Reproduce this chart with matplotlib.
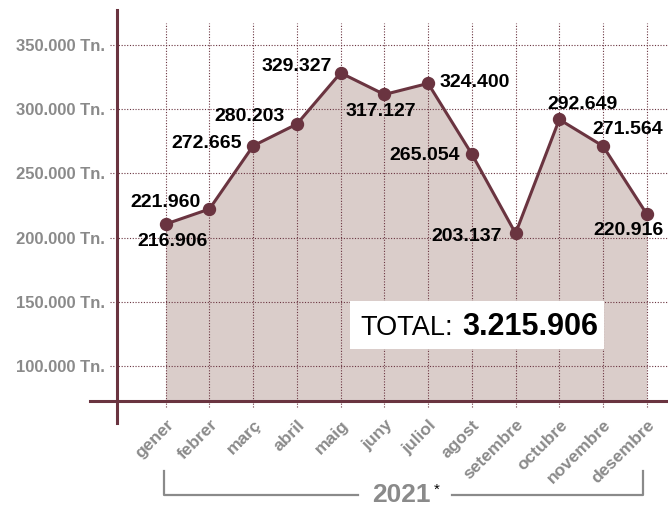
import matplotlib
matplotlib.use("Agg")
import matplotlib.pyplot as plt
from matplotlib.patches import Rectangle
from matplotlib.transforms import blended_transform_factory

plt.rcParams['font.family'] = ['Liberation Sans', 'DejaVu Sans']

months = ["gener", "febrer", "març", "abril", "maig", "juny", "juliol",
          "agost", "setembre", "octubre", "novembre", "desembre"]
# heights of the dots as they are drawn in the picture
tonnes = [210600, 222300, 271400, 288300, 328100, 311300, 319900,
          265000, 203400, 291900, 271200, 218400]
# the printed figures next to each dot
value_labels = ["216.906", "221.960", "272.665", "280.203", "329.327", "317.127",
                "324.400", "265.054", "203.137", "292.649", "271.564", "220.916"]
ytick_values = [100000, 150000, 200000, 250000, 300000, 350000]
ytick_labels = ["100.000 Tn.", "150.000 Tn.", "200.000 Tn.", "250.000 Tn.",
                "300.000 Tn.", "350.000 Tn."]
total_label = "3.215.906"
year_label = "2021"

# label offsets in pixels (dx, dy) from each dot
label_offsets = [(7, -17), (-44, 7), (-47, 2), (-47, 8), (-44, 6), (-4, -17),
                 (47, 1), (-47, -1), (-49, -3), (23, 15), (25, 17), (-18, -16)]

maroon = "#6a3440"
fill_col = "#dacdca"
grey = "#8a8a8a"

fig = plt.figure(figsize=(6.68, 5.08), dpi=100)
ax = fig.add_axes([0.1747, 0.2112, 0.8253, 0.7691])
base = 73330
ax.set_xlim(-1.1205, 11.486)
ax.set_ylim(base, 376950)
for s in ax.spines.values():
    s.set_visible(False)
ax.set_xticks([])
ax.set_yticks(ytick_values)
ax.set_yticklabels(ytick_labels, fontsize=12, fontweight="bold", color=grey)
ax.tick_params(axis="y", length=0, pad=8.4)

x = list(range(len(months)))
ax.fill_between(x, tonnes, base, color=fill_col, lw=0, zorder=1)

# dotted grid
for v in ytick_values:
    ax.axhline(v, xmin=-0.012, xmax=1, ls=(0, (1, 1.5)), lw=0.8, color=maroon,
               clip_on=False, zorder=2)
for i in x:
    ax.axvline(i, ymin=-0.016, ymax=0.9667, ls=(0, (1, 1.5)), lw=0.8, color=maroon,
               clip_on=False, zorder=2)

# axis cross
ax.axhline(base, xmin=-0.0484, xmax=1, color=maroon, lw=2.2, clip_on=False, zorder=3)
ax.axvline(-1.1205, ymin=-0.057, ymax=1, color=maroon, lw=2.2, clip_on=False, zorder=3)

ax.plot(x, tonnes, color=maroon, lw=2.2, marker="o", ms=8.6, zorder=5)

for xi, yi, lab, (dx, dy) in zip(x, tonnes, value_labels, label_offsets):
    ax.annotate(lab, (xi, yi), xytext=(dx, dy), textcoords="offset pixels",
                ha="center", va="center", fontsize=14, fontweight="bold",
                color="black", zorder=6)

trans = blended_transform_factory(ax.transData, ax.transAxes)
for xi, m in zip(x, months):
    ax.text(xi + 0.25, -0.042, m, transform=trans, rotation=45, ha="right", va="top",
            fontsize=12.5, fontweight="bold", color=grey)

# total box
ax.add_patch(Rectangle((4.214, 113507), 10.023 - 4.214, 151042 - 113507,
                       facecolor="white", edgecolor="none", zorder=4))
ax.text(4.443, 124386, "TOTAL:", fontsize=19.5, color="black", ha="left",
        va="baseline", zorder=6)
ax.text(6.78, 124386, total_label, fontsize=22, fontweight="bold", color="black",
        ha="left", va="baseline", zorder=6)

# year bracket
ax.plot([-0.04, -0.04, 4.4], [-0.179, -0.2414, -0.2414], transform=trans,
        color=grey, lw=1.6, clip_on=False)
ax.plot([6.55, 10.92, 10.92], [-0.2414, -0.2414, -0.179], transform=trans,
        color=grey, lw=1.6, clip_on=False)
ax.text(5.38, -0.2405, year_label, transform=trans, ha="center", va="center",
        fontsize=19, fontweight="bold", color=grey)
ax.text(6.2, -0.229, "*", transform=trans, ha="center", va="center",
        fontsize=11, color="black")

fig.savefig("out.png", dpi=100)
